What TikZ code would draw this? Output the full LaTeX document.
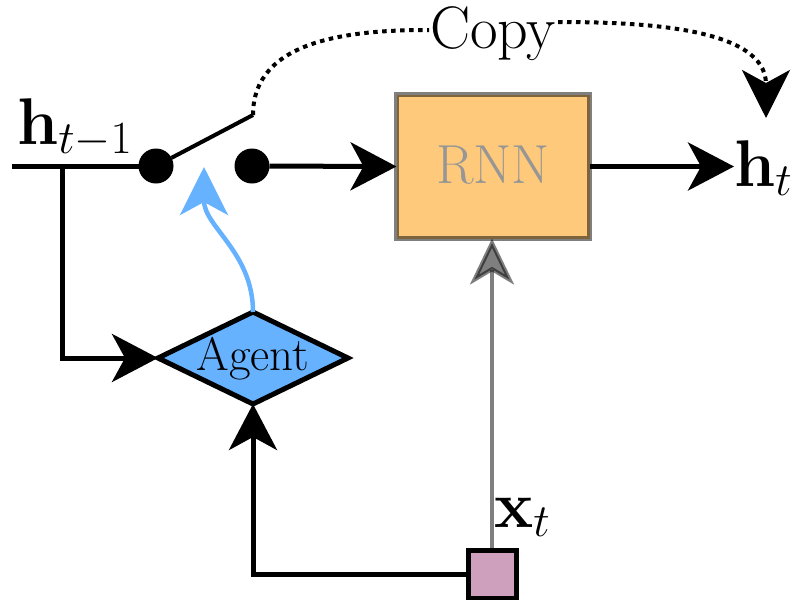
\RequirePackage{fix-cm}
\documentclass[tikz,border=0pt]{standalone}
\usetikzlibrary{arrows.meta,shapes.geometric}

\definecolor{agentblue}{RGB}{102,178,255}
\definecolor{rnnfill}{RGB}{254,201,123}
\definecolor{inputpink}{RGB}{206,160,190}
\definecolor{rnntext}{RGB}{150,150,150}

\begin{document}
\begin{tikzpicture}[x=1pt,y=-1pt,
  bighead/.style={-{Stealth[length=46pt,width=48pt,inset=13pt]}},
  wire/.style={line width=5pt, line join=miter},
  swdot/.style={circle, fill=black, minimum size=35pt, inner sep=0pt, outer sep=0pt},
  rnnbox/.style={draw=black, draw opacity=0.5, line width=5pt, fill=rnnfill,
    minimum width=193pt, minimum height=144pt, inner sep=0pt, outer sep=0pt,
    font=\rmfamily\fontsize{55}{60}\selectfont, text=rnntext},
  agentbox/.style={diamond, draw=black, line width=5pt, fill=agentblue,
    minimum width=190pt, minimum height=92pt, inner sep=0pt, outer sep=0pt,
    font=\rmfamily\fontsize{47}{50}\selectfont},
  inbox/.style={rectangle, draw=black, line width=5pt, fill=inputpink,
    minimum size=48pt, inner sep=0pt, outer sep=0pt},
  mathlbl/.style={inner sep=0pt, font=\fontsize{66}{70}\selectfont},
  copylbl/.style={inner sep=0pt, font=\rmfamily\fontsize{60}{64}\selectfont},
  dotline/.style={line width=4pt, dash pattern=on 4.5pt off 4.5pt},
  inputarrow/.style={line width=4pt, draw=black, draw opacity=0.5, fill opacity=0.5,
    -{Stealth[length=46pt,width=44pt,inset=13pt]}},
  agentarrow/.style={line width=4.5pt, draw=agentblue,
    -{Stealth[length=48pt,width=48pt,inset=13pt]}}
]
\useasboundingbox (0,0) rectangle (796,600);

% switch contacts, cell, agent and input
\node[swdot] (sw1) at (156,166) {};
\node[swdot] (sw2) at (252,166) {};
\node[rnnbox] (rnn) at (493,166.5) {\raisebox{4pt}{RNN}};
\node[agentbox] (agent) at (253,358)
  {\makebox[0pt]{\raisebox{-12pt}[0pt][0pt]{Agent}}};
\node[inbox] (xin) at (492,574) {};

% labels
\node[mathlbl, anchor=base west] (hprev) at (17,144) {$\mathbf{h}_{t-1}$};
\node[mathlbl, anchor=base west] (hnext) at (734,186) {$\mathbf{h}_t$};
\node[mathlbl, anchor=base west] (xlbl) at (494,527) {$\mathbf{x}_t$};
\node[copylbl, anchor=base] (copy) at (493,48) {Copy};

% free ends and bends
\coordinate (hin) at (12,166);
\coordinate (split) at (62,166);
\coordinate (lever) at (253,115);
\coordinate (cpl) at (429,30);
\coordinate (cpr) at (558,22);
\coordinate (htip) at (766,118);
\coordinate (gate) at (204,167);

% connectors
\draw[wire] (hin) -- (sw1);
\draw[wire, bighead] (split) |- (agent.west);
\draw[wire, bighead] (sw2) -- (rnn.west);
\draw[wire, bighead] (rnn.east) -- (rnn.east -| hnext.west);
\draw[line width=4pt] (sw1) -- (lever);
\draw[wire, bighead] (xin.west) -| (agent.south);
\draw[inputarrow] (xin.north) -- (xin.north |- rnn.south);
\draw[agentarrow] (agent.north) to[out=90,in=-90] (gate);

% copy path of the hidden state
\draw[dotline] (lever) to[out=90,in=180] (cpl);
\draw[dotline, -{Stealth[length=48pt,width=48pt,inset=13pt]}] (cpr) to[out=0,in=90] (htip);
\end{tikzpicture}
\end{document}
